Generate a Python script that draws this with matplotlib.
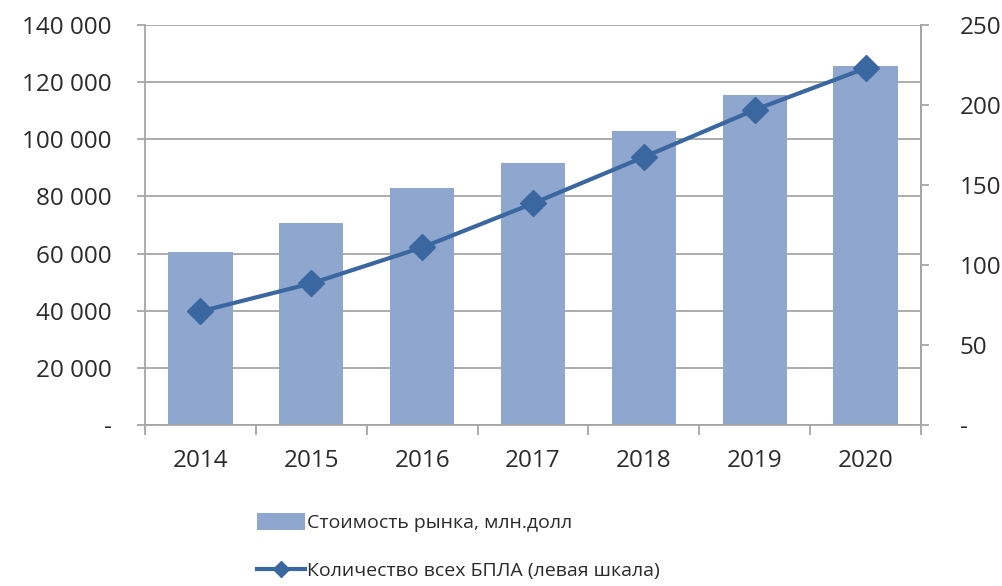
import matplotlib
matplotlib.use("Agg")
import matplotlib.pyplot as plt
import numpy as np
from matplotlib.ticker import FuncFormatter
from matplotlib.lines import Line2D
from matplotlib.patches import Patch

years = ["2014", "2015", "2016", "2017", "2018", "2019", "2020"]
market_value = [60500, 70800, 82800, 91600, 103000, 115500, 125700]
uav_count = [71, 88.5, 111, 138.5, 167.5, 197, 223]
left_ticks = [0, 20000, 40000, 60000, 80000, 100000, 120000, 140000]
right_ticks = [0, 50, 100, 150, 200, 250]
bar_label = "Стоимость рынка, млн.долл"
line_label = "Количество всех БПЛА (левая шкала)"

plt.rcParams['font.family'] = ['Open Sans', 'DejaVu Sans']
bar_color = "#8FA6CF"
line_color = "#3A679F"
grid_color = "#A6A6A6"
text_color = "#2B2B2B"
fs = 17.5

fig = plt.figure(figsize=(10.02, 5.86), dpi=100)
ax = fig.add_axes([0.1447, 0.2747, 0.9192 - 0.1447, 0.9573 - 0.2747])
x = np.arange(len(years))
ax.bar(x, market_value, width=0.58, color=bar_color, zorder=2, label=bar_label)
ax.set_xlim(-0.5, len(years) - 0.5)
ax.set_ylim(0, 140000)
ax.set_yticks(left_ticks)

def fmt_left(v, pos):
    if v == 0:
        return "-"
    return f"{int(v):,}".replace(",", " ")

ax.yaxis.set_major_formatter(FuncFormatter(fmt_left))
ax.yaxis.grid(True, color=grid_color, linewidth=1.3, zorder=0)
ax.set_axisbelow(True)
ax.set_xticks(x)
ax.set_xticklabels(years)
ax.set_xticks(np.arange(-0.5, len(years)), minor=True)
ax.tick_params(axis='x', which='major', length=0, pad=17, labelsize=fs, labelcolor=text_color)
ax.tick_params(axis='x', which='minor', length=7, width=1.3, color=grid_color)
ax.tick_params(axis='y', length=6, width=1.3, color=grid_color, pad=18, labelsize=fs, labelcolor=text_color)
ax.spines['top'].set_visible(False)
for s in ['left', 'bottom', 'right']:
    ax.spines[s].set_color(grid_color)
    ax.spines[s].set_linewidth(1.3)

ax2 = ax.twinx()
ax2.set_ylim(0, 250)
ax2.set_yticks(right_ticks)
ax2.yaxis.set_major_formatter(FuncFormatter(lambda v, p: "-" if v == 0 else f"{int(v)}"))
ax2.plot(x, uav_count, color=line_color, linewidth=3, marker='D', markersize=13,
         zorder=3, label=line_label)
ax2.tick_params(axis='y', length=6, width=1.3, color=grid_color, pad=22, labelsize=fs, labelcolor=text_color)
for s in ['top', 'left', 'bottom']:
    ax2.spines[s].set_visible(False)
ax2.spines['right'].set_color(grid_color)
ax2.spines['right'].set_linewidth(1.3)

h1 = Patch(facecolor=bar_color, edgecolor='none')
h2 = Line2D([0], [0], color=line_color, linewidth=3, marker='D', markersize=8)
fig.legend([h1, h2], [bar_label, line_label], loc='upper left',
           bbox_to_anchor=(239 / 1002, 1 - 495 / 586), frameon=False, fontsize=14,
           handlelength=2.5, handleheight=1.0, handletextpad=0.1, labelspacing=1.5,
           labelcolor=text_color)

fig.savefig("out.png", dpi=100)
